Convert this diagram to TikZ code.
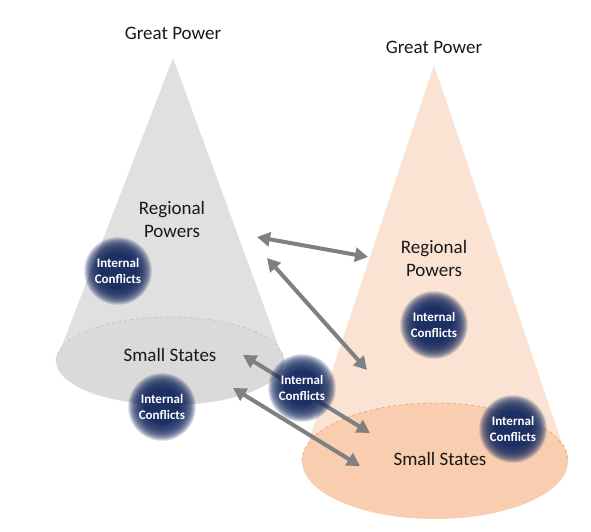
\documentclass[tikz,border=0pt]{standalone}
\usepackage{fontspec}
\setmainfont{Carlito}
\usetikzlibrary{arrows.meta}
\definecolor{coneleft}{RGB}{224,224,224}
\definecolor{baseleft}{RGB}{218,218,218}
\definecolor{rimleft}{RGB}{198,198,198}
\definecolor{coneright}{RGB}{251,227,212}
\definecolor{baseright}{RGB}{248,205,176}
\definecolor{rimright}{RGB}{240,168,120}
\definecolor{conflictblue}{RGB}{28,48,100}
\definecolor{linkgray}{RGB}{128,128,128}
\definecolor{textblack}{RGB}{25,25,25}

\tikzset{
  tierlabel/.style={align=center, inner sep=0pt, text=textblack, font=\fontsize{19}{23}\selectfont},
  conflict/.style={align=center, inner sep=0pt, text=white, font=\fontsize{13}{16}\selectfont\bfseries},
  link/.style={{Triangle[length=13pt,width=14pt]}-{Triangle[length=13pt,width=14pt]}, line width=4pt, draw=linkgray}
}

\begin{document}
\begin{tikzpicture}[x=1pt, y=-1pt]
        \useasboundingbox (0,0) rectangle (591,532);

        % Left cone
        \fill[coneleft] (173,58) -- (56,361) -- (284,361) -- cycle;
        \fill[baseleft] (170,361) ellipse (114pt and 44pt);
        \draw[rimleft, dashed, line width=0.8pt] (56,361) arc[start angle=180, end angle=0, x radius=114pt, y radius=44pt];

        % Right cone
        \fill[coneright] (434,65) -- (302,461) -- (568,461) -- cycle;
        \fill[baseright] (435,461) ellipse (133pt and 58pt);
        \draw[rimright, dashed, line width=0.8pt] (302,461) arc[start angle=180, end angle=0, x radius=133pt, y radius=58pt];

        % Arrow ends
        \coordinate (regL) at (257,237);
        \coordinate (regR) at (368,257);
        \coordinate (regL2) at (267,258);
        \coordinate (midR) at (367,370);
        \coordinate (smallL) at (243,355);
        \coordinate (smallR) at (370,433);
        \coordinate (smallL2) at (233,388);
        \coordinate (smallR2) at (360,466);

        \draw[link] (regL) -- (regR);
        \draw[link] (regL2) -- (midR);
        \draw[link] (smallL) -- (smallR);
        \draw[link] (smallL2) -- (smallR2);

        % Internal conflicts (soft edged discs)
        \foreach \cname/\cx/\cy in {confA/118/271, confB/162/407, confC/302/388, confD/434/325, confE/513/429}{
            \fill[conflictblue] (\cx,\cy) circle (18pt);
            \foreach \r in {18,18.5,...,34}
                \fill[conflictblue, opacity=0.09] (\cx,\cy) circle (\r pt);
            \node[conflict] (\cname) at (\cx,\cy) {Internal\\Conflicts};
        }

        % Labels
        \node[tierlabel] (greatL) at (173,33) {Great Power};
        \node[tierlabel] (greatR) at (434,47) {Great Power};
        \node[tierlabel] (regionalL) at (172,219) {Regional\\Powers};
        \node[tierlabel] (regionalR) at (434,258) {Regional\\Powers};
        \node[tierlabel] (smallStL) at (170,355) {Small States};
        \node[tierlabel] (smallStR) at (440,459) {Small States};
    \end{tikzpicture}
\end{document}
